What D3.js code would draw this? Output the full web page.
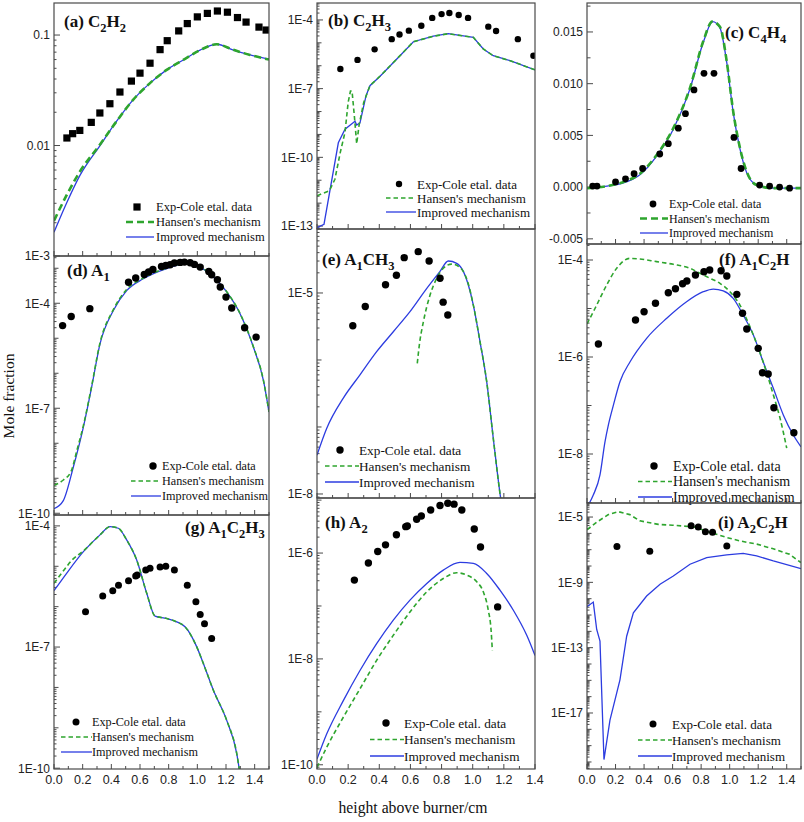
<!DOCTYPE html>
<html><head><meta charset="utf-8">
<script src="https://cdn.jsdelivr.net/npm/d3@7"></script>
<style>body{margin:0;background:#fff}</style>
</head><body>
<svg id="chart" width="804" height="822"></svg>
<script>
// ---------------- DATA ----------------
const xTickValues = [0, 0.2, 0.4, 0.6, 0.8, 1.0, 1.2, 1.4];
const xTickLabels = ["0.0", "0.2", "0.4", "0.6", "0.8", "1.0", "1.2", "1.4"];
const legendLabels = ["Exp-Cole etal. data", "Hansen's mechanism", "Improved mechanism"];

// (a) C2H2
const aYTicks = [1e-3, 1e-2, 0.1];
const aYLabels = ["1E-3", "0.01", "0.1"];
const aExp = [[0.09,0.0117],[0.13,0.0128],[0.18,0.0137],[0.26,0.0162],[0.32,0.0197],[0.39,0.0239],[0.46,0.0305],[0.54,0.0383],[0.60,0.0452],[0.67,0.0556],[0.74,0.0738],[0.79,0.0889],[0.87,0.109],[0.93,0.127],[1.00,0.146],[1.07,0.157],[1.14,0.165],[1.21,0.161],[1.28,0.144],[1.34,0.131],[1.43,0.118],[1.48,0.111]];
const aHan = [[0,2.09e-3],[0.088,3.55e-3],[0.181,5.82e-3],[0.321,1.02e-2],[0.437,1.66e-2],[0.553,2.6e-2],[0.67,3.67e-2],[0.786,4.84e-2],[0.902,5.95e-2],[1.019,7.3e-2],[1.135,8.25e-2],[1.251,7.35e-2],[1.368,6.6e-2],[1.5,6.0e-2]];
const aImp = [[0,1.64e-3],[0.088,3.02e-3],[0.181,5.37e-3],[0.321,1.0e-2],[0.437,1.66e-2],[0.553,2.6e-2],[0.67,3.67e-2],[0.786,4.84e-2],[0.902,5.95e-2],[1.019,7.3e-2],[1.135,8.25e-2],[1.251,7.3e-2],[1.368,6.6e-2],[1.5,6.04e-2]];

// (b) C2H3
const bYTicks = [1e-13, 1e-10, 1e-7, 1e-4];
const bYLabels = ["1E-13", "1E-10", "1E-7", "1E-4"];
const bExp = [[0.15,7.2e-7],[0.26,1.8e-6],[0.37,5.2e-6],[0.48,1.45e-5],[0.53,2.3e-5],[0.59,3.4e-5],[0.67,5.6e-5],[0.74,1.23e-4],[0.80,1.8e-4],[0.85,2.0e-4],[0.91,1.65e-4],[0.97,1.23e-4],[1.10,5.1e-5],[1.15,3.3e-5],[1.29,1.45e-5],[1.39,2.75e-6]];
const bHan = [[0,2.1e-12],[0.08,3.5e-12],[0.115,1.1e-11],[0.15,1.7e-10],[0.18,1.26e-9],[0.2,2.5e-8],[0.215,7.9e-8],[0.225,7.9e-8],[0.24,6.3e-9],[0.255,3.9e-10],[0.27,2.5e-9],[0.3,2.5e-8],[0.34,1.35e-7],[0.405,3.5e-7],[0.533,2.75e-6],[0.619,1.12e-5],[0.747,1.95e-5],[0.843,2.5e-5],[0.94,2.0e-5],[1.004,1.74e-5],[1.068,5.4e-6],[1.132,2.75e-6],[1.24,1.66e-6],[1.4,6.6e-7]];
const bImp = [[0,8.5e-14],[0.045,1.2e-13],[0.137,4.3e-10],[0.18,1.7e-9],[0.244,3.8e-9],[0.255,2.6e-9],[0.276,3.2e-9],[0.315,4.9e-8],[0.34,1.35e-7],[0.405,3.5e-7],[0.533,2.75e-6],[0.619,1.12e-5],[0.747,1.95e-5],[0.843,2.5e-5],[0.94,2.0e-5],[1.004,1.74e-5],[1.068,5.4e-6],[1.132,2.75e-6],[1.24,1.66e-6],[1.4,6.6e-7]];

// (c) C4H4
const cYTicks = [-0.005, 0, 0.005, 0.010, 0.015];
const cYLabels = ["-0.005", "0.000", "0.005", "0.010", "0.015"];
const cExp = [[0.04,0.0001],[0.07,0.0001],[0.20,0.0005],[0.27,0.0008],[0.33,0.0013],[0.39,0.0018],[0.51,0.0032],[0.57,0.0042],[0.64,0.0057],[0.69,0.0071],[0.75,0.0094],[0.82,0.0110],[0.89,0.0110],[1.03,0.0048],[1.08,0.0018],[1.21,0.0002],[1.28,0.0001],[1.35,0.0000],[1.42,-0.0001]];
const cHan = [[0,-0.0001],[0.14,0.0001],[0.255,0.0005],[0.371,0.0013],[0.488,0.0031],[0.605,0.0057],[0.722,0.0096],[0.815,0.0141],[0.878,0.0160],[0.932,0.0155],[0.979,0.0122],[1.025,0.0073],[1.072,0.0038],[1.119,0.0015],[1.189,0.0002],[1.306,-0.0001],[1.5,-0.0001]];
const cImp = [[0,-0.0001],[0.14,0.0001],[0.255,0.0004],[0.371,0.0012],[0.488,0.0030],[0.605,0.0056],[0.722,0.0095],[0.815,0.0140],[0.881,0.0160],[0.932,0.0154],[0.979,0.0121],[1.025,0.0072],[1.072,0.0037],[1.119,0.0014],[1.189,0.0002],[1.306,-0.0001],[1.5,-0.0001]];

// (d) A1
const dYTicks = [1e-10, 1e-7, 1e-4];
const dYLabels = ["1E-10", "1E-7", "1E-4"];
const dExp = [[0.06,2.3e-5],[0.12,4.2e-5],[0.25,7.0e-5],[0.52,4.0e-4],[0.57,5.25e-4],[0.63,6.65e-4],[0.66,7.8e-4],[0.69,9.25e-4],[0.75,1.12e-3],[0.78,1.2e-3],[0.81,1.26e-3],[0.84,1.41e-3],[0.88,1.47e-3],[0.91,1.5e-3],[0.95,1.44e-3],[0.98,1.29e-3],[1.02,1.08e-3],[1.08,8.1e-4],[1.10,6.5e-4],[1.14,4.7e-4],[1.16,2.9e-4],[1.20,1.5e-4],[1.24,7.3e-5],[1.33,2.0e-5],[1.41,1.08e-5]];
const dHan = [[0,6.3e-10],[0.065,8.9e-10],[0.12,1.6e-9],[0.16,6.3e-9],[0.205,3.2e-8],[0.263,4.4e-7],[0.321,7.4e-6],[0.414,6.6e-5],[0.507,2.5e-4],[0.623,5.25e-4],[0.786,1.02e-3],[0.926,1.38e-3],[1.019,1.1e-3],[1.112,5.75e-4],[1.205,2.15e-4],[1.298,5.1e-5],[1.391,5.75e-6],[1.461,6.3e-7],[1.5,7.9e-8]];
const dImp = [[0,1.35e-10],[0.065,2.3e-10],[0.135,2.1e-9],[0.205,2.9e-8],[0.263,4.1e-7],[0.321,6.9e-6],[0.414,6.2e-5],[0.507,2.3e-4],[0.623,5.0e-4],[0.786,9.8e-4],[0.926,1.35e-3],[1.019,1.07e-3],[1.112,5.6e-4],[1.205,2.1e-4],[1.298,5.0e-5],[1.391,5.6e-6],[1.461,6.3e-7],[1.5,7.8e-8]];

// (e) A1CH3
const eYTicks = [1e-8, 1e-5];
const eYLabels = ["1E-8", "1E-5"];
const eExp = [[0.23,3.25e-6],[0.31,6.3e-6],[0.44,1.33e-5],[0.51,1.84e-5],[0.56,3.37e-5],[0.65,4.14e-5],[0.72,3.0e-5],[0.79,1.66e-5],[0.81,7.3e-6],[0.84,4.7e-6]];
const eHan = [[0.644,8.9e-7],[0.657,1.66e-6],[0.683,3.7e-6],[0.726,9.3e-6],[0.769,1.66e-5],[0.811,2.34e-5],[0.865,2.7e-5],[0.918,2.4e-5],[0.951,1.86e-5],[0.97,1.41e-5],[1.004,6.6e-6],[1.047,1.87e-6],[1.09,4.7e-7],[1.132,6.8e-8],[1.175,1.02e-8],[1.2,4.0e-9]];
const eImp = [[0,3.8e-8],[0.062,9.5e-8],[0.169,2.7e-7],[0.276,6.0e-7],[0.383,1.33e-6],[0.49,2.64e-6],[0.597,5.26e-6],[0.705,1.17e-5],[0.79,2.1e-5],[0.843,3.0e-5],[0.897,2.77e-5],[0.94,2.1e-5],[1.004,6.6e-6],[1.047,1.87e-6],[1.09,4.7e-7],[1.132,6.8e-8],[1.175,1.02e-8],[1.2,4.0e-9]];

// (f) A1C2H
const fYTicks = [1e-8, 1e-6, 1e-4];
const fYLabels = ["1E-8", "1E-6", "1E-4"];
const fExp = [[0.08,1.85e-6],[0.34,5.8e-6],[0.40,8.6e-6],[0.48,1.28e-5],[0.57,2.12e-5],[0.62,2.56e-5],[0.67,3.24e-5],[0.70,3.69e-5],[0.76,4.91e-5],[0.82,5.74e-5],[0.86,6.22e-5],[0.94,6.01e-5],[0.98,4.68e-5],[1.05,1.96e-5],[1.09,7.96e-6],[1.12,3.78e-6],[1.20,1.51e-6],[1.23,4.74e-7],[1.27,4.46e-7],[1.31,9.0e-8],[1.45,2.75e-8]];
const fHan = [[0,4.8e-6],[0.056,1.0e-5],[0.138,3.05e-5],[0.208,6.75e-5],[0.301,1.08e-4],[0.371,1.05e-4],[0.488,9.25e-5],[0.605,8.15e-5],[0.722,6.75e-5],[0.792,5.3e-5],[0.862,4.2e-5],[0.932,3.3e-5],[1.002,2.22e-5],[1.049,1.5e-5],[1.072,1.18e-5],[1.095,8.6e-6],[1.166,2.84e-6],[1.235,7.9e-7],[1.306,1.66e-7],[1.353,5.5e-8],[1.40,1.32e-8]];
const fImp = [[0,8.0e-10],[0.044,1.43e-9],[0.091,3.7e-9],[0.126,1.78e-8],[0.15,4.0e-8],[0.185,1.02e-7],[0.231,3.1e-7],[0.301,7.9e-7],[0.418,2.43e-6],[0.559,6.3e-6],[0.698,1.38e-5],[0.815,2.22e-5],[0.885,2.52e-5],[0.955,2.3e-5],[1.025,1.62e-5],[1.095,7.3e-6],[1.166,2.84e-6],[1.235,7.9e-7],[1.306,2.26e-7],[1.376,6.4e-8],[1.446,2.47e-8],[1.5,1.41e-8]];

// (g) A1C2H3
const gYTicks = [1e-10, 1e-7, 1e-4];
const gYLabels = ["1E-10", "1E-7", "1E-4"];
const gExp = [[0.22,7.5e-7],[0.34,1.83e-6],[0.41,2.48e-6],[0.45,3.38e-6],[0.52,4.4e-6],[0.57,5.74e-6],[0.58,6.08e-6],[0.64,8.1e-6],[0.67,8.9e-6],[0.74,9.6e-6],[0.78,1.0e-5],[0.84,8.1e-6],[0.93,3.38e-6],[0.99,1.32e-6],[1.02,6.4e-7],[1.05,3.76e-7],[1.10,1.63e-7]];
const gHan = [[0,3.78e-6],[0.07,8.1e-6],[0.128,1.45e-5],[0.205,2.4e-5],[0.321,6.0e-5],[0.391,9.6e-5],[0.449,8.75e-5],[0.507,4.5e-5],[0.577,1.43e-5],[0.647,2.14e-6],[0.705,5.85e-7],[0.786,5.1e-7],[0.856,4.2e-7],[0.914,3.17e-7],[0.996,1.01e-7],[1.042,3.9e-8],[1.112,8.5e-9],[1.205,1.53e-9],[1.275,2.3e-10],[1.3,6.3e-11]];
const gImp = [[0,2.48e-6],[0.088,6.7e-6],[0.205,2.3e-5],[0.321,6.0e-5],[0.391,9.6e-5],[0.449,8.75e-5],[0.507,4.5e-5],[0.577,1.43e-5],[0.647,2.14e-6],[0.705,5.85e-7],[0.786,5.1e-7],[0.856,4.2e-7],[0.914,3.17e-7],[0.996,1.01e-7],[1.042,3.9e-8],[1.112,8.5e-9],[1.205,1.53e-9],[1.275,2.3e-10],[1.3,6.3e-11]];

// (h) A2
const hYTicks = [1e-10, 1e-8, 1e-6];
const hYLabels = ["1E-10", "1E-8", "1E-6"];
const hExp = [[0.24,3.08e-7],[0.33,6.5e-7],[0.39,1.07e-6],[0.44,1.43e-6],[0.51,2.21e-6],[0.57,3.15e-6],[0.58,3.25e-6],[0.64,4.35e-6],[0.67,5.0e-6],[0.73,6.5e-6],[0.79,7.9e-6],[0.84,8.75e-6],[0.88,8.4e-6],[0.93,6.5e-6],[1.01,2.85e-6],[1.05,1.3e-6],[1.16,9.6e-8]];
const hHan = [[0,8.9e-11],[0.062,2.13e-10],[0.169,7.9e-10],[0.276,2.72e-9],[0.383,9.4e-9],[0.49,2.79e-8],[0.597,7.7e-8],[0.705,1.85e-7],[0.811,3.3e-7],[0.897,4.24e-7],[0.961,3.83e-7],[1.026,2.86e-7],[1.068,1.85e-7],[1.1,8.3e-8],[1.118,3.47e-8],[1.126,1.45e-8]];
const hImp = [[0,1.28e-10],[0.062,3.8e-10],[0.169,1.63e-9],[0.276,6.05e-9],[0.383,1.94e-8],[0.49,5.4e-8],[0.597,1.29e-7],[0.705,2.66e-7],[0.811,4.76e-7],[0.918,6.65e-7],[1.004,6.37e-7],[1.09,4.12e-7],[1.175,1.99e-7],[1.261,8.3e-8],[1.347,2.79e-8],[1.4,1.16e-8]];

// (i) A2C2H
const iYTicks = [1e-17, 1e-13, 1e-9, 1e-5];
const iYLabels = ["1E-17", "1E-13", "1E-9", "1E-5"];
const iExp = [[0.21,1.58e-7],[0.44,8.1e-8],[0.73,2.92e-6],[0.78,2.43e-6],[0.83,1.24e-6],[0.88,1.19e-6],[0.98,1.71e-7]];
const iHan = [[0,1.66e-6],[0.07,5.0e-6],[0.15,1.41e-5],[0.22,2.14e-5],[0.3,1.41e-5],[0.37,5.9e-6],[0.5,3.55e-6],[0.6,3.16e-6],[0.75,2.5e-6],[0.83,1.41e-6],[0.98,5.6e-7],[1.07,3.47e-7],[1.19,2.19e-7],[1.3,1.17e-7],[1.42,5.2e-8],[1.5,1.62e-8]];
const iImp = [[0,3.2e-11],[0.044,6.2e-11],[0.068,1.3e-12],[0.091,2.5e-13],[0.119,1.4e-20],[0.161,3.7e-18],[0.231,1.07e-15],[0.278,5.0e-13],[0.325,1.38e-11],[0.418,1.45e-10],[0.512,7.6e-10],[0.605,2.45e-9],[0.722,1.29e-8],[0.839,3.3e-8],[0.979,4.8e-8],[1.095,6.0e-8],[1.189,4.2e-8],[1.306,2.04e-8],[1.5,6.9e-9]];

// ---------------- LAYOUT ----------------
const BLUE = '#2c3ce0', GREEN = '#2ea52e', FRAME = '#4a4a4a';
const SANS = "'Liberation Sans', Arial, sans-serif";
const SERIF = "'Liberation Serif', 'Times New Roman', serif";

const panels = [
 {id:'a', x0:54,x1:269,y0:3,y1:256, xmax:1.5, log:true, ydom:[1e-3,0.195], ticks:aYTicks, labels:aYLabels, exp:aExp, han:aHan, imp:aImp, sq:true, r:3.6, thick:true,
  title:[['(a) C',0],['2',1],['H',0],['2',1]], tx:64, ty:27, leg:{mx:137,tx:156,y:207,dy:15,l0:126,l1:154,fs:12.5}, xl:false, lin:false},
 {id:'b', x0:317,x1:535,y0:3,y1:229, xmax:1.4, log:true, ydom:[Math.pow(10,-13.13),Math.pow(10,-3.26)], ticks:bYTicks, labels:bYLabels, exp:bExp, han:bHan, imp:bImp, r:3.2, thick:false,
  title:[['(b) C',0],['2',1],['H',0],['3',1]], tx:328, ty:26, leg:{mx:399,tx:417,y:184,dy:14,l0:386,l1:416,fs:13}, xl:false, lin:true},
 {id:'c', x0:587,x1:801,y0:3,y1:244, xmax:1.5, log:false, ydom:[-0.0055,0.0178], ticks:cYTicks, labels:cYLabels, exp:cExp, han:cHan, imp:cImp, r:3.4, thick:true,
  title:[['(c) C',0],['4',1],['H',0],['4',1]], tx:725, ty:38, leg:{mx:653,tx:669,y:204,dy:14.5,l0:640,l1:668,fs:12}, xl:false, lin:false},
 {id:'d', x0:54,x1:269,y0:256,y1:515, xmax:1.5, log:true, ydom:[Math.pow(10,-10.05),Math.pow(10,-2.65)], ticks:dYTicks, labels:dYLabels, exp:dExp, han:dHan, imp:dImp, r:3.7, thick:false,
  title:[['(d) A',0],['1',1]], tx:67, ty:276, leg:{mx:153,tx:162,y:466,dy:15,l0:131,l1:161,fs:12.2}, xl:false, lin:false},
 {id:'e', x0:317,x1:535,y0:229,y1:498, xmax:1.4, log:true, ydom:[Math.pow(10,-8.06),Math.pow(10,-4.045)], ticks:eYTicks, labels:eYLabels, exp:eExp, han:eHan, imp:eImp, r:3.7, thick:false,
  title:[['(e) A',0],['1',1],['CH',0],['3',1]], tx:322, ty:265, leg:{mx:340,tx:359,y:450,dy:16,l0:325,l1:359,fs:13.3}, xl:false, lin:false},
 {id:'f', x0:587,x1:801,y0:244,y1:503, xmax:1.5, log:true, ydom:[Math.pow(10,-9.01),Math.pow(10,-3.67)], ticks:fYTicks, labels:fYLabels, exp:fExp, han:fHan, imp:fImp, r:3.7, thick:false,
  title:[['(f) A',0],['1',1],['C',0],['2',1],['H',0]], tx:719, ty:265, leg:{mx:654,tx:673,y:466,dy:15.5,l0:638,l1:672,fs:14}, xl:false, lin:false},
 {id:'g', x0:54,x1:269,y0:515,y1:769, xmax:1.5, log:true, ydom:[Math.pow(10,-10.02),Math.pow(10,-3.73)], ticks:gYTicks, labels:gYLabels, exp:gExp, han:gHan, imp:gImp, r:3.5, thick:false,
  title:[['(g) A',0],['1',1],['C',0],['2',1],['H',0],['3',1]], tx:185, ty:533, leg:{mx:76,tx:92,y:722,dy:15,l0:61,l1:92,fs:12.2}, xl:true, lin:false},
 {id:'h', x0:317,x1:535,y0:498,y1:769, xmax:1.4, log:true, ydom:[Math.pow(10,-10.08),Math.pow(10,-4.96)], ticks:hYTicks, labels:hYLabels, exp:hExp, han:hHan, imp:hImp, r:3.7, thick:false,
  title:[['(h) A',0],['2',1]], tx:325, ty:528, leg:{mx:386,tx:404,y:723,dy:16.5,l0:370,l1:404,fs:13.3}, xl:true, lin:false},
 {id:'i', x0:587,x1:801,y0:503,y1:769, xmax:1.5, log:true, ydom:[Math.pow(10,-20.43),Math.pow(10,-4.14)], ticks:iYTicks, labels:iYLabels, exp:iExp, han:iHan, imp:iImp, r:3.5, thick:false,
  title:[['(i) A',0],['2',1],['C',0],['2',1],['H',0]], tx:718, ty:528, leg:{mx:653,tx:672,y:724,dy:16,l0:638,l1:672,fs:13}, xl:true, lin:true}
];

const svg = d3.select('#chart');
const defs = svg.append('defs');

panels.forEach(p => {
  const x = d3.scaleLinear().domain([0, p.xmax]).range([p.x0, p.x1]);
  const y = (p.log ? d3.scaleLog() : d3.scaleLinear()).domain(p.ydom).range([p.y1, p.y0]);
  const g = svg.append('g');
  const cid = 'clip-' + p.id;
  defs.append('clipPath').attr('id', cid).append('rect')
    .attr('x', p.x0).attr('y', p.y0).attr('width', p.x1 - p.x0).attr('height', p.y1 - p.y0);

  // y ticks
  const yt = [];
  if (p.log) {
    const lo = Math.floor(Math.log10(p.ydom[0])), hi = Math.ceil(Math.log10(p.ydom[1]));
    const majors = p.ticks.map(t => Math.round(Math.log10(t)));
    for (let e = lo; e <= hi; e++) {
      for (let m = 1; m < 10; m++) {
        const v = m * Math.pow(10, e);
        if (v < p.ydom[0] * 0.999 || v > p.ydom[1]) continue;
        yt.push({v, len: m === 1 ? (majors.includes(e) ? 6 : 4.5) : 2.5});
      }
    }
  } else {
    d3.range(-0.005, 0.0176, 0.0025).forEach((v, k) => {
      yt.push({v, len: k % 2 === 0 ? 6 : 3.5});
    });
  }
  g.selectAll('.yt').data(yt).enter().append('line')
    .attr('x1', p.x0).attr('x2', d => p.x0 + d.len)
    .attr('y1', d => y(d.v)).attr('y2', d => y(d.v))
    .attr('stroke', FRAME).attr('stroke-width', 1);

  g.selectAll('.yl').data(p.ticks).enter().append('text')
    .attr('x', p.x0 - 4).attr('y', d => y(d)).attr('dy', '0.36em')
    .attr('text-anchor', 'end').attr('font-family', SANS).attr('font-size', 12)
    .attr('fill', '#222').text((d, k) => p.labels[k]);

  // x ticks
  const xt = d3.range(0, p.xmax + 0.001, 0.1);
  g.selectAll('.xt').data(xt).enter().append('line')
    .attr('x1', d => x(d)).attr('x2', d => x(d))
    .attr('y1', p.y1).attr('y2', (d, k) => p.y1 - (k % 2 === 0 ? 5 : 3))
    .attr('stroke', FRAME).attr('stroke-width', 1);
  if (p.xl) {
    g.selectAll('.xl').data(xTickValues).enter().append('text')
      .attr('x', d => x(d)).attr('y', 784)
      .attr('text-anchor', 'middle').attr('font-family', SANS).attr('font-size', 12.5)
      .attr('fill', '#222').text((d, k) => xTickLabels[k]);
  }

  // lines
  const curve = p.lin ? d3.curveLinear : d3.curveMonotoneX;
  const line = d3.line().x(d => x(d[0])).y(d => y(d[1])).curve(curve);
  const lg = g.append('g').attr('clip-path', `url(#${cid})`);
  lg.append('path').datum(p.imp).attr('d', line).attr('fill', 'none')
    .attr('stroke', BLUE).attr('stroke-width', 1.3);
  lg.append('path').datum(p.han).attr('d', line).attr('fill', 'none')
    .attr('stroke', GREEN).attr('stroke-width', p.thick ? 2.6 : 1.6)
    .attr('stroke-dasharray', p.thick ? '7,4' : '4.5,3');

  // experimental points
  if (p.sq) {
    lg.selectAll('.pt').data(p.exp).enter().append('rect')
      .attr('x', d => x(d[0]) - p.r).attr('y', d => y(d[1]) - p.r)
      .attr('width', 2 * p.r).attr('height', 2 * p.r).attr('fill', '#000');
  } else {
    lg.selectAll('.pt').data(p.exp).enter().append('circle')
      .attr('cx', d => x(d[0])).attr('cy', d => y(d[1])).attr('r', p.r).attr('fill', '#000');
  }

  // frame
  g.append('rect').attr('x', p.x0).attr('y', p.y0)
    .attr('width', p.x1 - p.x0).attr('height', p.y1 - p.y0)
    .attr('fill', 'none').attr('stroke', FRAME).attr('stroke-width', 1.2);

  // title
  const t = g.append('text').attr('x', p.tx).attr('y', p.ty)
    .attr('font-family', SERIF).attr('font-weight', 'bold').attr('font-size', 17).attr('fill', '#111');
  let shifted = false;
  p.title.forEach(([s, sub]) => {
    const ts = t.append('tspan').text(s);
    if (sub && !shifted) { ts.attr('dy', 4.5).attr('font-size', 12.5); shifted = true; }
    else if (sub) { ts.attr('font-size', 12.5); }
    else if (!sub && shifted) { ts.attr('dy', -4.5); shifted = false; }
  });

  // legend
  const L = p.leg;
  if (p.sq) {
    g.append('rect').attr('x', L.mx - p.r).attr('y', L.y - p.r).attr('width', 2 * p.r).attr('height', 2 * p.r).attr('fill', '#000');
  } else {
    g.append('circle').attr('cx', L.mx).attr('cy', L.y).attr('r', p.r).attr('fill', '#000');
  }
  g.append('line').attr('x1', L.l0).attr('x2', L.l1).attr('y1', L.y + L.dy).attr('y2', L.y + L.dy)
    .attr('stroke', GREEN).attr('stroke-width', p.thick ? 2.6 : 1.6)
    .attr('stroke-dasharray', p.thick ? '7,4' : '4.5,3');
  g.append('line').attr('x1', L.l0).attr('x2', L.l1).attr('y1', L.y + 2 * L.dy).attr('y2', L.y + 2 * L.dy)
    .attr('stroke', BLUE).attr('stroke-width', 1.3);
  legendLabels.forEach((s, k) => {
    g.append('text').attr('x', L.tx).attr('y', L.y + k * L.dy).attr('dy', '0.35em')
      .attr('font-family', SERIF).attr('font-size', L.fs).attr('fill', '#111').text(s);
  });
});

// axis titles
svg.append('text').attr('transform', 'translate(14,396) rotate(-90)')
  .attr('text-anchor', 'middle').attr('font-family', SERIF).attr('font-size', 15.5)
  .attr('fill', '#111').text('Mole fraction');
svg.append('text').attr('x', 413).attr('y', 813)
  .attr('text-anchor', 'middle').attr('font-family', SERIF).attr('font-size', 15.7)
  .attr('fill', '#111').text('height above burner/cm');
</script>
</body></html>
